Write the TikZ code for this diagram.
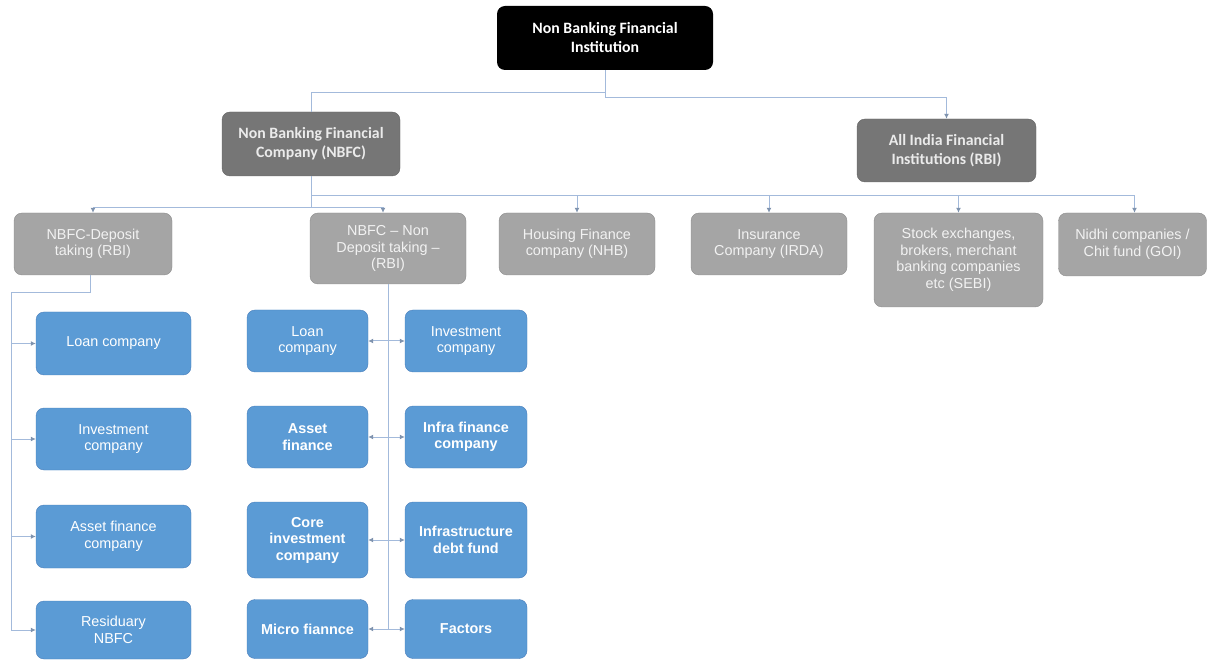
\documentclass[tikz,border=0pt]{standalone}
\usepackage{fontspec}
\setmainfont{Liberation Sans}
\newfontfamily\calfont{Carlito}
\usetikzlibrary{arrows.meta}
\definecolor{bluefill}{HTML}{5B9BD5}
\definecolor{blueedge}{HTML}{4A7EBB}
\definecolor{darkfill}{HTML}{767676}
\definecolor{lightfill}{HTML}{A5A5A5}
\definecolor{lightedge}{HTML}{8C8C8C}
\definecolor{linec}{HTML}{A3BADB}
\definecolor{tipc}{HTML}{7F93AE}
\begin{document}
\begin{tikzpicture}[x=1pt,y=-1pt,
  box/.style={rounded corners=8pt, inner sep=2pt, align=center, text=white},
  rootbox/.style={box, fill=black, font=\calfont\bfseries\fontsize{15.8}{19}\selectfont},
  darkbox/.style={box, fill=darkfill, draw=darkfill!85!black, text=white!92!black, font=\calfont\bfseries\fontsize{15.8}{19}\selectfont},
  greybox/.style={box, fill=lightfill, draw=lightedge, text=white!95!black, font=\fontsize{14.4}{16.5}\selectfont},
  bluebox/.style={box, fill=bluefill, draw=blueedge, font=\fontsize{14.4}{16.5}\selectfont},
  boldblue/.style={bluebox, font=\bfseries\fontsize{14.4}{16.5}\selectfont},
  conn/.style={draw=linec, line width=1pt},
  arr/.style={conn, -{Latex[length=5pt,width=5pt,color=tipc]}},
  darr/.style={conn, {Latex[length=5pt,width=5pt,color=tipc]}-{Latex[length=5pt,width=5pt,color=tipc]}},
]
\useasboundingbox (0,0) rectangle (1208,660);

% level 0
\node[rootbox, minimum width=216pt, minimum height=64pt] (root) at (605,38) {Non Banking Financial\\Institution};
% level 1
\node[darkbox, minimum width=178pt, minimum height=64pt] (nbfc) at (311,144) {Non Banking Financial\\Company (NBFC)};
\node[darkbox, minimum width=179pt, minimum height=63pt] (aifi) at (946.5,150.5) {All India Financial\\Institutions (RBI)};
% level 2
\node[greybox, minimum width=158pt, minimum height=62pt] (dep) at (93,244) {NBFC-Deposit\\taking (RBI)};
\node[greybox, minimum width=156pt, minimum height=71pt] (nondep) at (388,248.5) {NBFC -- Non\\Deposit taking --\\(RBI)};
\node[greybox, minimum width=156pt, minimum height=62pt] (hfc) at (577,244) {Housing Finance\\company (NHB)};
\node[greybox, minimum width=156pt, minimum height=62pt] (ins) at (769,244) {Insurance\\Company (IRDA)};
\node[greybox, minimum width=169pt, minimum height=94pt] (sebi) at (958.5,260) {Stock exchanges,\\brokers, merchant\\banking companies\\etc (SEBI)};
\node[greybox, minimum width=148pt, minimum height=63pt] (nidhi) at (1132.5,244.5) {Nidhi companies /\\Chit fund (GOI)};
% left column
\node[bluebox, minimum width=155pt, minimum height=63pt] (l1) at (113.5,343.5) {Loan company};
\node[bluebox, minimum width=155pt, minimum height=62pt] (l2) at (113.5,439) {Investment\\company};
\node[bluebox, minimum width=155pt, minimum height=63pt] (l3) at (113.5,536.5) {Asset finance\\company};
\node[bluebox, minimum width=155pt, minimum height=58pt] (l4) at (113.5,630) {Residuary\\NBFC};
% middle columns
\node[bluebox, minimum width=121pt, minimum height=62pt] (ml1) at (307.5,341) {Loan\\company};
\node[bluebox, minimum width=122pt, minimum height=62pt] (mr1) at (466,341) {Investment\\company};
\node[boldblue, minimum width=121pt, minimum height=62pt] (ml2) at (307.5,437) {Asset\\finance};
\node[boldblue, minimum width=122pt, minimum height=62pt] (mr2) at (466,437) {Infra finance\\company};
\node[boldblue, minimum width=121pt, minimum height=76pt] (ml3) at (307.5,540) {Core\\investment\\company};
\node[boldblue, minimum width=122pt, minimum height=76pt] (mr3) at (466,540) {Infrastructure\\debt fund};
\node[boldblue, minimum width=121pt, minimum height=59pt] (ml4) at (307.5,629) {Micro fiannce};
\node[boldblue, minimum width=122pt, minimum height=59pt] (mr4) at (466,629) {Factors};

% connectors level 0 -> 1
\draw[conn] (root.south) -- ++(0,22) -| (nbfc.north);
\draw[arr] (root.south) -- ++(0,27) -| (aifi.north);
% level 1 -> 2
\draw[arr] (nbfc.south) -- ++(0,19) -| (hfc.north);
\draw[arr] (nbfc.south) -- ++(0,19) -| (ins.north);
\draw[arr] (nbfc.south) -- ++(0,19) -| (sebi.north);
\draw[arr] (nbfc.south) -- ++(0,19) -| ([xshift=2pt]nidhi.north);
\draw[arr] (nbfc.south) -- ++(0,31) -| (dep.north);
\draw[arr] (nbfc.south) -- ++(0,31) -| ([xshift=-5pt]nondep.north);
% left column
\coordinate (lt) at (11,293);
\draw[conn] ([xshift=-3pt]dep.south) |- (lt) -- (lt |- l4.west);
\draw[arr] (lt |- l1.west) -- (l1.west);
\draw[arr] (lt |- l2.west) -- (l2.west);
\draw[arr] (lt |- l3.west) -- (l3.west);
\draw[arr] (lt |- l4.west) -- (l4.west);
% middle spine
\draw[conn] (nondep.south) -- (nondep.south |- ml4.east);
\draw[darr] (ml1.east) -- (mr1.west);
\draw[darr] (ml2.east) -- (mr2.west);
\draw[darr] (ml3.east) -- (mr3.west);
\draw[darr] (ml4.east) -- (mr4.west);
\end{tikzpicture}
\end{document}
